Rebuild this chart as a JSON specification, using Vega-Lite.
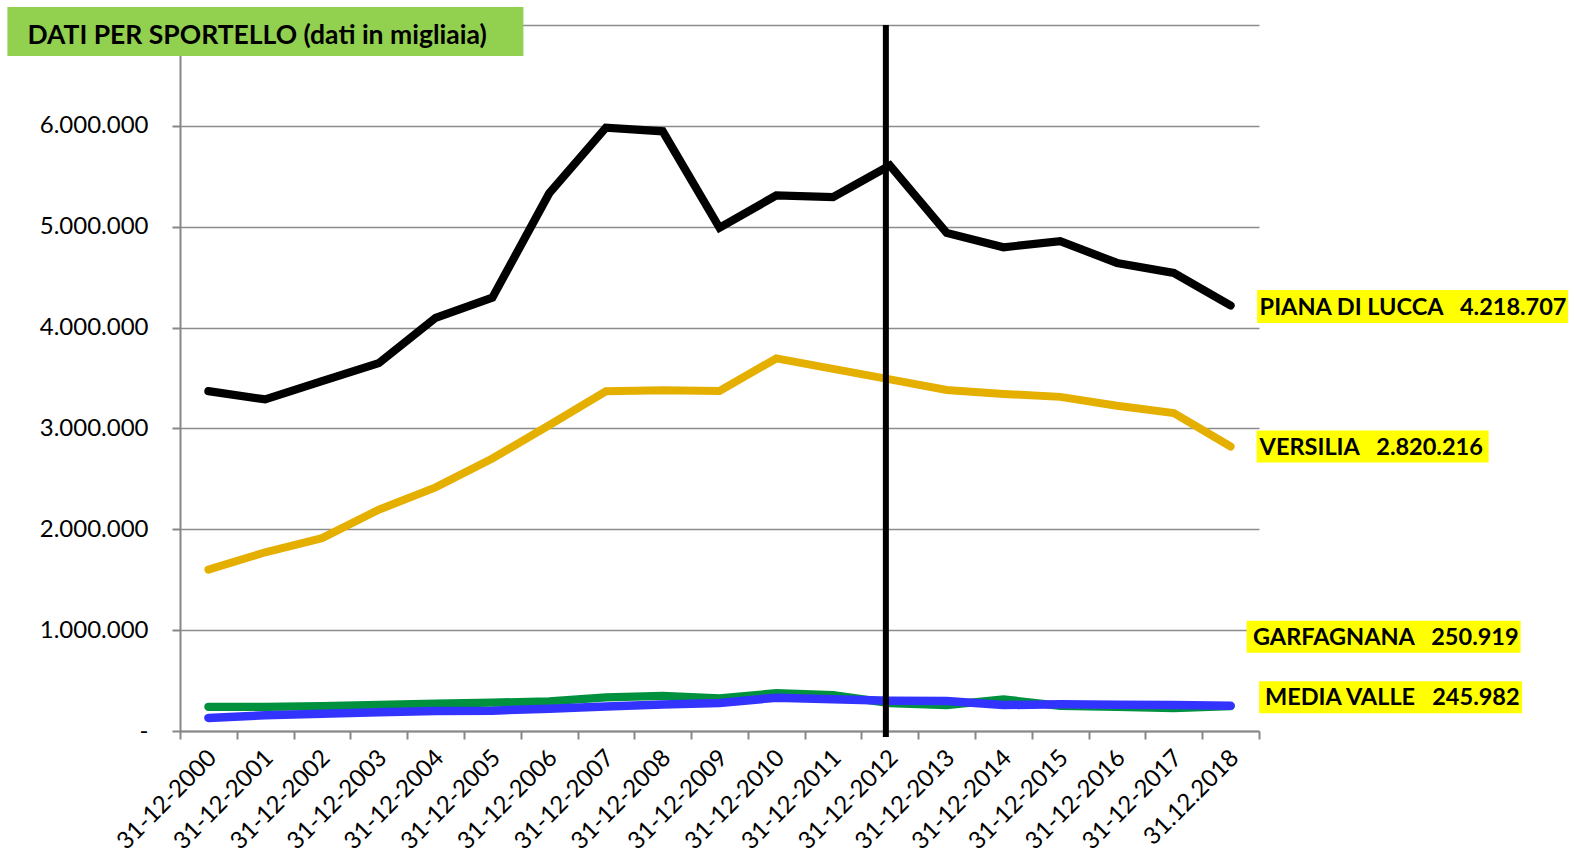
{
  "$schema": "https://vega.github.io/schema/vega-lite/v6.json",
  "width": 1079,
  "height": 706,
  "autosize": {"type": "none"},
  "padding": {"left": 180, "top": 25, "right": 315, "bottom": 125},
  "background": "#ffffff",
  "config": {
    "locale": {"number": {"decimal": ",", "thousands": ".", "grouping": [3], "currency": ["€", ""]}},
    "view": {"stroke": null},
    "font": "Lato"
  },
  "datasets": {
    "sportello": [
      {"date": "31-12-2000", "region": "VERSILIA", "value": 1600000},
      {"date": "31-12-2001", "region": "VERSILIA", "value": 1772000},
      {"date": "31-12-2002", "region": "VERSILIA", "value": 1912000},
      {"date": "31-12-2003", "region": "VERSILIA", "value": 2194000},
      {"date": "31-12-2004", "region": "VERSILIA", "value": 2415000},
      {"date": "31-12-2005", "region": "VERSILIA", "value": 2702000},
      {"date": "31-12-2006", "region": "VERSILIA", "value": 3032000},
      {"date": "31-12-2007", "region": "VERSILIA", "value": 3368000},
      {"date": "31-12-2008", "region": "VERSILIA", "value": 3378000},
      {"date": "31-12-2009", "region": "VERSILIA", "value": 3372000},
      {"date": "31-12-2010", "region": "VERSILIA", "value": 3694000},
      {"date": "31-12-2011", "region": "VERSILIA", "value": 3590000},
      {"date": "31-12-2012", "region": "VERSILIA", "value": 3487000},
      {"date": "31-12-2013", "region": "VERSILIA", "value": 3381000},
      {"date": "31-12-2014", "region": "VERSILIA", "value": 3342000},
      {"date": "31-12-2015", "region": "VERSILIA", "value": 3313000},
      {"date": "31-12-2016", "region": "VERSILIA", "value": 3225000},
      {"date": "31-12-2017", "region": "VERSILIA", "value": 3152000},
      {"date": "31.12.2018", "region": "VERSILIA", "value": 2820216},
      {"date": "31-12-2000", "region": "PIANA DI LUCCA", "value": 3370000},
      {"date": "31-12-2001", "region": "PIANA DI LUCCA", "value": 3288000},
      {"date": "31-12-2002", "region": "PIANA DI LUCCA", "value": 3468000},
      {"date": "31-12-2003", "region": "PIANA DI LUCCA", "value": 3648000},
      {"date": "31-12-2004", "region": "PIANA DI LUCCA", "value": 4097000},
      {"date": "31-12-2005", "region": "PIANA DI LUCCA", "value": 4296000},
      {"date": "31-12-2006", "region": "PIANA DI LUCCA", "value": 5330000},
      {"date": "31-12-2007", "region": "PIANA DI LUCCA", "value": 5982000},
      {"date": "31-12-2008", "region": "PIANA DI LUCCA", "value": 5946000},
      {"date": "31-12-2009", "region": "PIANA DI LUCCA", "value": 4990000},
      {"date": "31-12-2010", "region": "PIANA DI LUCCA", "value": 5310000},
      {"date": "31-12-2011", "region": "PIANA DI LUCCA", "value": 5293000},
      {"date": "31-12-2012", "region": "PIANA DI LUCCA", "value": 5608000},
      {"date": "31-12-2013", "region": "PIANA DI LUCCA", "value": 4938000},
      {"date": "31-12-2014", "region": "PIANA DI LUCCA", "value": 4796000},
      {"date": "31-12-2015", "region": "PIANA DI LUCCA", "value": 4856000},
      {"date": "31-12-2016", "region": "PIANA DI LUCCA", "value": 4641000},
      {"date": "31-12-2017", "region": "PIANA DI LUCCA", "value": 4542000},
      {"date": "31.12.2018", "region": "PIANA DI LUCCA", "value": 4218707},
      {"date": "31-12-2000", "region": "MEDIA VALLE", "value": 240000},
      {"date": "31-12-2001", "region": "MEDIA VALLE", "value": 240000},
      {"date": "31-12-2002", "region": "MEDIA VALLE", "value": 246000},
      {"date": "31-12-2003", "region": "MEDIA VALLE", "value": 258000},
      {"date": "31-12-2004", "region": "MEDIA VALLE", "value": 271000},
      {"date": "31-12-2005", "region": "MEDIA VALLE", "value": 281000},
      {"date": "31-12-2006", "region": "MEDIA VALLE", "value": 294000},
      {"date": "31-12-2007", "region": "MEDIA VALLE", "value": 333000},
      {"date": "31-12-2008", "region": "MEDIA VALLE", "value": 349000},
      {"date": "31-12-2009", "region": "MEDIA VALLE", "value": 324000},
      {"date": "31-12-2010", "region": "MEDIA VALLE", "value": 374000},
      {"date": "31-12-2011", "region": "MEDIA VALLE", "value": 355000},
      {"date": "31-12-2012", "region": "MEDIA VALLE", "value": 276000},
      {"date": "31-12-2013", "region": "MEDIA VALLE", "value": 256000},
      {"date": "31-12-2014", "region": "MEDIA VALLE", "value": 313000},
      {"date": "31-12-2015", "region": "MEDIA VALLE", "value": 250000},
      {"date": "31-12-2016", "region": "MEDIA VALLE", "value": 240000},
      {"date": "31-12-2017", "region": "MEDIA VALLE", "value": 228000},
      {"date": "31.12.2018", "region": "MEDIA VALLE", "value": 245982},
      {"date": "31-12-2000", "region": "GARFAGNANA", "value": 130000},
      {"date": "31-12-2001", "region": "GARFAGNANA", "value": 155000},
      {"date": "31-12-2002", "region": "GARFAGNANA", "value": 170000},
      {"date": "31-12-2003", "region": "GARFAGNANA", "value": 185000},
      {"date": "31-12-2004", "region": "GARFAGNANA", "value": 198000},
      {"date": "31-12-2005", "region": "GARFAGNANA", "value": 202000},
      {"date": "31-12-2006", "region": "GARFAGNANA", "value": 221000},
      {"date": "31-12-2007", "region": "GARFAGNANA", "value": 244000},
      {"date": "31-12-2008", "region": "GARFAGNANA", "value": 262000},
      {"date": "31-12-2009", "region": "GARFAGNANA", "value": 277000},
      {"date": "31-12-2010", "region": "GARFAGNANA", "value": 330000},
      {"date": "31-12-2011", "region": "GARFAGNANA", "value": 314000},
      {"date": "31-12-2012", "region": "GARFAGNANA", "value": 301000},
      {"date": "31-12-2013", "region": "GARFAGNANA", "value": 298000},
      {"date": "31-12-2014", "region": "GARFAGNANA", "value": 257000},
      {"date": "31-12-2015", "region": "GARFAGNANA", "value": 265000},
      {"date": "31-12-2016", "region": "GARFAGNANA", "value": 261000},
      {"date": "31-12-2017", "region": "GARFAGNANA", "value": 257000},
      {"date": "31.12.2018", "region": "GARFAGNANA", "value": 250919}
    ]
  },
  "data": {"name": "sportello"},
  "layer": [
    {
      "mark": {"type": "line", "strokeCap": "round", "strokeJoin": "miter"},
      "encoding": {
        "x": {
          "field": "date",
          "type": "ordinal",
          "sort": null,
          "scale": {"type": "band", "paddingInner": 0, "paddingOuter": 0},
          "axis": {
            "title": null,
            "tickBand": "extent",
            "grid": false,
            "domainColor": "#878787",
            "domainWidth": 2,
            "tickColor": "#878787",
            "tickWidth": 2,
            "tickSize": 8,
            "labelAngle": -45,
            "labelAlign": "right",
            "labelBaseline": "middle",
            "labelFont": "Lato",
            "labelFontSize": 24,
            "labelColor": "#000000",
            "labelPadding": 15,
            "labelOffset": 4
          }
        },
        "y": {
          "field": "value",
          "type": "quantitative",
          "scale": {"domain": [0, 7000000], "nice": false},
          "axis": {
            "title": null,
            "values": [0, 1000000, 2000000, 3000000, 4000000, 5000000, 6000000, 7000000],
            "labelExpr": "datum.value == 0 ? '-\u00a0\u00a0\u00a0' : datum.value >= 7000000 ? '' : replace(format(datum.value, ',d'), regexp(',', 'g'), '.')",
            "grid": true,
            "gridColor": "#8c8c8c",
            "gridWidth": 1.5,
            "domainColor": "#878787",
            "domainWidth": 2,
            "tickColor": "#878787",
            "tickWidth": 2,
            "tickSize": 8,
            "labelFont": "Lato",
            "labelFontSize": 24,
            "labelColor": "#000000",
            "labelPadding": 24
          }
        },
        "color": {
          "field": "region",
          "type": "nominal",
          "scale": {
            "domain": ["VERSILIA", "PIANA DI LUCCA", "MEDIA VALLE", "GARFAGNANA"],
            "range": ["#E5AF00", "#000000", "#00913F", "#3333FF"]
          },
          "legend": null
        },
        "strokeWidth": {
          "field": "region",
          "type": "nominal",
          "scale": {
            "domain": ["VERSILIA", "PIANA DI LUCCA", "MEDIA VALLE", "GARFAGNANA"],
            "range": [8, 8.5, 8, 6.5]
          },
          "legend": null
        }
      }
    },
    {
      "data": {"values": [{}]},
      "mark": {"type": "rule", "color": "#000000", "strokeWidth": 6, "xOffset": -4},
      "encoding": {
        "x": {"datum": "31-12-2012", "type": "ordinal"},
        "y": {"datum": 7000000, "type": "quantitative"},
        "y2": {"datum": -60000}
      }
    },
    {
      "transform": [
        {"filter": "datum.date == '31.12.2018'"},
        {"calculate": "datum.region + '\u00a0\u00a0\u00a0' + replace(format(datum.value, ',d'), regexp(',', 'g'), '.')", "as": "label"}
      ],
      "layer": [
        {
          "transform": [{"filter": "datum.region == 'PIANA DI LUCCA'"}],
          "layer": [
            {
              "mark": {"type": "rect", "color": "#FFFF00", "width": 311, "height": 33, "xOffset": 182, "yOffset": 1},
              "encoding": {"x": {"field": "date", "type": "ordinal"}, "y": {"field": "value", "type": "quantitative"}}
            },
            {
              "mark": {"type": "text", "align": "left", "baseline": "middle", "dx": 29, "yOffset": 2, "font": "Lato", "fontWeight": "bold", "fontSize": 23.5, "color": "#000000"},
              "encoding": {"x": {"field": "date", "type": "ordinal"}, "y": {"field": "value", "type": "quantitative"}, "text": {"field": "label"}}
            }
          ]
        },
        {
          "transform": [{"filter": "datum.region == 'VERSILIA'"}],
          "layer": [
            {
              "mark": {"type": "rect", "color": "#FFFF00", "width": 232, "height": 32, "xOffset": 142, "yOffset": 0},
              "encoding": {"x": {"field": "date", "type": "ordinal"}, "y": {"field": "value", "type": "quantitative"}}
            },
            {
              "mark": {"type": "text", "align": "left", "baseline": "middle", "dx": 29, "yOffset": 1, "font": "Lato", "fontWeight": "bold", "fontSize": 23.5, "color": "#000000"},
              "encoding": {"x": {"field": "date", "type": "ordinal"}, "y": {"field": "value", "type": "quantitative"}, "text": {"field": "label"}}
            }
          ]
        },
        {
          "transform": [{"filter": "datum.region == 'GARFAGNANA'"}],
          "layer": [
            {
              "mark": {"type": "rect", "color": "#FFFF00", "width": 274, "height": 32, "xOffset": 153, "yOffset": -69},
              "encoding": {"x": {"field": "date", "type": "ordinal"}, "y": {"field": "value", "type": "quantitative"}}
            },
            {
              "mark": {"type": "text", "align": "right", "baseline": "middle", "dx": 288, "yOffset": -68, "font": "Lato", "fontWeight": "bold", "fontSize": 23.5, "color": "#000000"},
              "encoding": {"x": {"field": "date", "type": "ordinal"}, "y": {"field": "value", "type": "quantitative"}, "text": {"field": "label"}}
            }
          ]
        },
        {
          "transform": [{"filter": "datum.region == 'MEDIA VALLE'"}],
          "layer": [
            {
              "mark": {"type": "rect", "color": "#FFFF00", "width": 263, "height": 32, "xOffset": 160, "yOffset": -9},
              "encoding": {"x": {"field": "date", "type": "ordinal"}, "y": {"field": "value", "type": "quantitative"}}
            },
            {
              "mark": {"type": "text", "align": "right", "baseline": "middle", "dx": 289, "yOffset": -8, "font": "Lato", "fontWeight": "bold", "fontSize": 23.5, "color": "#000000"},
              "encoding": {"x": {"field": "date", "type": "ordinal"}, "y": {"field": "value", "type": "quantitative"}, "text": {"field": "label"}}
            }
          ]
        }
      ]
    },
    {
      "data": {"values": [{}]},
      "layer": [
        {
          "mark": {"type": "rect", "color": "#92D050", "width": 516, "height": 49, "xOffset": 57, "yOffset": 6.5},
          "encoding": {
            "x": {"datum": "31-12-2000", "type": "ordinal"},
            "y": {"datum": 7000000, "type": "quantitative"}
          }
        },
        {
          "mark": {"type": "text", "text": "DATI PER SPORTELLO (dati in migliaia)", "align": "left", "baseline": "alphabetic", "dx": -181, "dy": 18.5, "font": "Lato", "fontWeight": "bold", "fontSize": 26.5, "color": "#000000"},
          "encoding": {
            "x": {"datum": "31-12-2000", "type": "ordinal"},
            "y": {"datum": 7000000, "type": "quantitative"}
          }
        }
      ]
    }
  ]
}
